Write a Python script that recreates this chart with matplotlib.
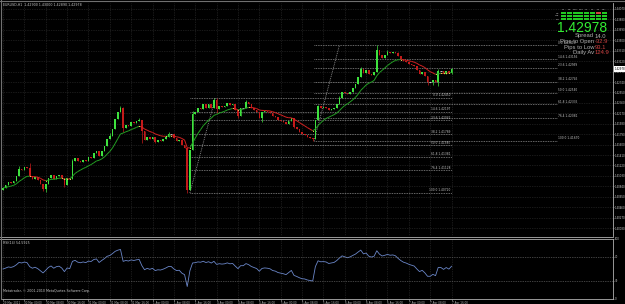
import numpy as np
import pandas as pd
import matplotlib
matplotlib.use('Agg')
import matplotlib.pyplot as plt
from matplotlib.collections import LineCollection
from matplotlib.patches import Rectangle

W, H = 625, 304

# EURUSD H1, 29 Mar 2011 16:00 -> 7 Apr 2011 16:00 (open = previous close)
close = [1.4081, 1.4086, 1.4092, 1.4090, 1.4094, 1.4103, 1.4116, 1.4114, 1.4119, 1.4117,
         1.4103, 1.4097, 1.4101, 1.4096, 1.4088, 1.4079, 1.4088, 1.4099, 1.4105, 1.4097,
         1.4103, 1.4105, 1.4099, 1.4086, 1.4099, 1.4097, 1.4130, 1.4136, 1.4130, 1.4128,
         1.4132, 1.4130, 1.4137, 1.4136, 1.4145, 1.4148, 1.4139, 1.4148, 1.4157, 1.4170,
         1.4175, 1.4188, 1.4207, 1.4219, 1.4227, 1.4190, 1.4196, 1.4194, 1.4201, 1.4199,
         1.4203, 1.4205, 1.4185, 1.4168, 1.4174, 1.4170, 1.4174, 1.4165, 1.4168, 1.4167,
         1.4170, 1.4174, 1.4179, 1.4179, 1.4172, 1.4167, 1.4168, 1.4159, 1.4154, 1.4077,
         1.4150, 1.4216, 1.4219, 1.4227, 1.4225, 1.4234, 1.4227, 1.4234, 1.4227, 1.4241,
         1.4225, 1.4230, 1.4228, 1.4230, 1.4236, 1.4232, 1.4234, 1.4223, 1.4212, 1.4227,
         1.4227, 1.4238, 1.4234, 1.4227, 1.4223, 1.4219, 1.4208, 1.4219, 1.4221, 1.4220,
         1.4218, 1.4212, 1.4210, 1.4205, 1.4203, 1.4201, 1.4198, 1.4203, 1.4208, 1.4192,
         1.4188, 1.4183, 1.4179, 1.4178, 1.4174, 1.4172, 1.4170, 1.4205, 1.4230, 1.4227,
         1.4228, 1.4227, 1.4223, 1.4225, 1.4227, 1.4234, 1.4245, 1.4256, 1.4254, 1.4252,
         1.4256, 1.4263, 1.4270, 1.4283, 1.4298, 1.4290, 1.4296, 1.4289, 1.4287, 1.4292,
         1.4332, 1.4323, 1.4318, 1.4323, 1.4329, 1.4327, 1.4329, 1.4327, 1.4321, 1.4316,
         1.4312, 1.4310, 1.4307, 1.4305, 1.4303, 1.4296, 1.4289, 1.4292, 1.4285, 1.4274,
         1.4274, 1.4278, 1.4274, 1.4294, 1.4294, 1.4289, 1.4294, 1.4290, 1.42978]
first_open = 1.4078

# wicks that stick out of the body (bar index -> price)
wick_hi = {6: 1.4121, 10: 1.4126, 26: 1.4134, 40: 1.4181, 44: 1.4230, 45: 1.4228,
           51: 1.4208, 62: 1.4183, 71: 1.4221, 79: 1.4245, 80: 1.4245, 91: 1.4241,
           118: 1.4233, 126: 1.4249, 134: 1.4302, 140: 1.4341, 144: 1.4332,
           148: 1.4329, 163: 1.4297, 168: 1.4300}
wick_lo = {15: 1.4076, 16: 1.4074, 23: 1.4083, 45: 1.4183, 52: 1.4163, 57: 1.4162,
           69: 1.4072, 80: 1.4218, 88: 1.4208, 97: 1.4201, 109: 1.4190, 116: 1.4167,
           159: 1.4269, 161: 1.4269, 163: 1.4267, 168: 1.4289}

price_ticks = [1.44070, 1.43880, 1.43690, 1.43500, 1.43310, 1.43120, 1.42930, 1.42740,
               1.42550, 1.42360, 1.42170, 1.41980, 1.41790, 1.41600, 1.41410, 1.41220,
               1.41030, 1.40840, 1.40650, 1.40460, 1.40270, 1.40080]
time_labels = ['29 Mar 2011', '30 Mar 00:00', '30 Mar 08:00', '30 Mar 16:00', '31 Mar 00:00',
               '31 Mar 08:00', '31 Mar 16:00', '1 Apr 00:00', '1 Apr 08:00', '1 Apr 16:00',
               '4 Apr 00:00', '4 Apr 08:00', '4 Apr 16:00', '5 Apr 00:00', '5 Apr 08:00',
               '5 Apr 16:00', '6 Apr 00:00', '6 Apr 08:00', '6 Apr 16:00', '7 Apr 00:00',
               '7 Apr 08:00', '7 Apr 16:00']

# fibo retracements: (bar1, price1 = level 0, bar2, price2 = level 100)
fib_levels = [0.0, 14.6, 23.6, 38.2, 50.0, 61.8, 76.4, 100.0]
fibA = (70, 1.4245, 80, 1.4072)
fibB = (116.5, 1.4341, 126.5, 1.4167)

tf_names = ['M1', 'M5', 'M15', 'M30', 'H1', 'H4', 'D1', 'W1']
sig_rows = ['MA', 'STR', 'CCI']
spread, pips_open, pips_low, daily_av = '14.0', '-32.9', '93.1', '124.9'

# ------------------------------------------------------------------
c = np.array(close)
o = np.concatenate([[first_open], c[:-1]])
n = len(c)
idx = np.arange(n)
hi = np.maximum(o, c)
lo = np.minimum(o, c)
for k, v in wick_hi.items():
    hi[k] = max(hi[k], v)
for k, v in wick_lo.items():
    lo[k] = min(lo[k], v)

BG = 'black'
TXT = '#c8c8c8'
GRID = '#333333'
BULL = '#3ee23e'
BEAR = '#c41a1a'
px_bar = 2.67

fig = plt.figure(figsize=(W / 100, H / 100), dpi=100, facecolor=BG)


def fx(x):
    return x / W


def fy(y):
    return 1 - y / H


ax = fig.add_axes([fx(2), fy(236), 611 / W, 233 / H], facecolor=BG)
ax2 = fig.add_axes([fx(2), fy(299), 611 / W, 60 / H], facecolor=BG)

pp = 0.00190 / 10.43   # price per pixel
ax.set_ylim(1.44070 - (236 - 9) * pp, 1.44070 + 6 * pp)
xl = (-1 / px_bar, 610 / px_bar)
ax.set_xlim(*xl)
ax2.set_xlim(*xl)
ax2.set_ylim(0, 100)

for a in (ax, ax2):
    for s in a.spines.values():
        s.set_visible(False)
    a.spines['right'].set_visible(True)
    a.spines['right'].set_color('#b0b0b0')
    a.spines['right'].set_linewidth(0.6)
    a.yaxis.tick_right()
    a.tick_params(axis='y', colors='#b0b0b0', labelcolor=TXT, labelsize=1.9,
                  length=1.0, width=0.4, pad=0.3)
    a.grid(True, color=GRID, linestyle=(0, (1, 1.5)), linewidth=0.5)
    a.set_axisbelow(True)

ax.set_yticks(price_ticks)
ax.set_yticklabels([f'{p:.5f}' for p in price_ticks])
ax.set_xticks(idx[::8])
ax.tick_params(axis='x', length=0, labelbottom=False)

ax2.spines['bottom'].set_visible(True)
ax2.spines['bottom'].set_color('#b0b0b0')
ax2.spines['bottom'].set_linewidth(0.6)
ax2.set_yticks([0, 30, 70, 100])
ax2.set_yticklabels(['0', '30', '70', '100'])
ax2.set_xticks(idx[::8])
ax2.set_xticklabels(time_labels, fontsize=2.0, color=TXT, ha='left')
ax2.tick_params(axis='x', colors='#b0b0b0', length=1.2, width=0.4, pad=0.4)
ax2.grid(False)
ax2.xaxis.grid(True, color=GRID, linestyle=(0, (1, 1.5)), linewidth=0.5)

# candles
up = c > o
dn = c < o
fl = c == o
ax.vlines(idx[up], lo[up], hi[up], color=BULL, lw=0.5, zorder=3)
ax.vlines(idx[dn], lo[dn], hi[dn], color=BEAR, lw=0.5, zorder=3)
ax.bar(idx[up], c[up] - o[up], bottom=o[up], width=0.6, color=BULL, lw=0, zorder=3)
ax.bar(idx[dn], o[dn] - c[dn], bottom=c[dn], width=0.6, color=BEAR, lw=0, zorder=3)
ax.hlines(c[fl], idx[fl] - 0.4, idx[fl] + 0.4, color='#e0e0e0', lw=0.6, zorder=3)

# colour changing moving average
ma = pd.Series(c).ewm(span=12, adjust=False).mean().values
pts = np.column_stack([idx, ma])
segs = np.stack([pts[:-1], pts[1:]], axis=1)
slope = np.diff(ma)
cols = np.where(slope >= 0, '#24a024', '#d42222')
ax.add_collection(LineCollection(segs, colors=cols, linewidths=0.7, zorder=4))
turn = np.where(np.sign(slope[1:]) != np.sign(slope[:-1]))[0] + 1
ax.scatter(idx[turn], ma[turn], s=0.6, color='#f0e060', zorder=5, lw=0)

# fibo retracements
for (b1, p1, b2, p2), x_end, lab_x, lab_ha in [(fibA, 168.3, 167.6, 'right'),
                                                (fibB, 207.5, 207.8, 'left')]:
    ax.plot([b1, b2 - 0.5], [p2, p1], color='#a0a0a0', lw=0.6, ls=(0, (1, 1.2)), zorder=2)
    for lv in fib_levels:
        pr = p1 - lv / 100 * (p1 - p2)
        ax.hlines(pr, b1, x_end, color='#a8a8a8', lw=0.55, ls=(0, (1, 1.2)), zorder=2)
        ax.text(lab_x, pr + 0.6 * pp, f'{lv:.1f} {pr:.5f}', fontsize=2.1, color=TXT,
                ha=lab_ha, va='bottom', zorder=6)

# RSI(14), Wilder smoothing started from a neutral state
ag = al = 0.0006
rsi = [50.0]
for i in range(1, n):
    dd = c[i] - c[i - 1]
    ag = (ag * 13 + max(dd, 0)) / 14
    al = (al * 13 + max(-dd, 0)) / 14
    rsi.append(100 - 100 / (1 + ag / al))
rsi = np.array(rsi)
ax2.plot(idx, rsi, color='#6a86c8', lw=0.6)
ax2.axhline(70, color='#808080', lw=0.5, ls=(0, (1, 1.5)))
ax2.axhline(30, color='#808080', lw=0.5, ls=(0, (1, 1.5)))

# panel separators and frame
fig.add_artist(plt.Line2D([0, fx(613)], [fy(237), fy(237)], color='#b0b0b0', lw=0.6))
fig.add_artist(plt.Line2D([0, fx(613)], [fy(239), fy(239)], color='#b0b0b0', lw=0.6))
fig.add_artist(plt.Line2D([fx(0.5), fx(0.5)], [fy(0), fy(299)], color='#707070', lw=0.8))
fig.add_artist(plt.Line2D([0, 1], [fy(0.5), fy(0.5)], color='#707070', lw=0.8))

# texts
fig.text(fx(3), fy(5), f'EURUSD,H1  {o[-1]:.5f} {hi[-1]:.5f} {lo[-1]:.5f} {c[-1]:.5f}',
         fontsize=2.3, color=TXT, va='center')
fig.text(fx(3), fy(243), f'RSI(14) {rsi[-1]:.4f}', fontsize=2.3, color=TXT, va='center')
fig.text(fx(3), fy(291), 'Metatrader, \u00a9 2001-2010 MetaQuotes Software Corp.',
         fontsize=2.3, color=TXT, va='center')

# current price tag
fig.patches.append(Rectangle((fx(613.5), fy(72)), 11.5 / W, 6 / H, transform=fig.transFigure,
                             facecolor='white', edgecolor='none'))
fig.text(fx(614.3), fy(69), f'{c[-1]:.5f}', fontsize=1.9, color='black', va='center')

# signal widget
col_x = 561
for k, nm in enumerate(tf_names):
    fig.text(fx(col_x + k * 5.8 + 2.4), fy(10), nm, fontsize=1.6, color=TXT,
             ha='center', va='center')
    for r in range(len(sig_rows)):
        colr = '#d04040' if (k == 6 and r == 0) else '#22c822'
        fig.patches.append(Rectangle((fx(col_x + k * 5.8), fy(14 + r * 3)), 5 / W, 2.2 / H,
                                     transform=fig.transFigure, facecolor=colr,
                                     edgecolor='none'))
for r, nm in enumerate(sig_rows):
    fig.text(fx(559.5), fy(13 + r * 3), nm, fontsize=1.6, color=TXT, ha='right',
             va='center')

fig.text(fx(607), fy(28), f'{c[-1]:.5f}', fontsize=10, color='#33ee33', ha='right',
         va='center', family='Liberation Sans')
rows = [('Spread', spread, '#b0b0b0'), ('Pips to Open', pips_open, '#d04040'),
        ('Pips to Low', pips_low, '#d04040'), ('Daily Av', daily_av, '#d04040')]
for r, (lab, val, vc) in enumerate(rows):
    yy = fy(36 + r * 5.6)
    fig.text(fx(594), yy, lab, fontsize=4.2, color='#b0b0b0', ha='right', va='center',
             family='Liberation Sans')
    fig.text(fx(595), yy, val, fontsize=4.2, color=vc, ha='left', va='center',
             family='Liberation Sans')

fig.savefig('out.png', dpi=100, facecolor=BG)
